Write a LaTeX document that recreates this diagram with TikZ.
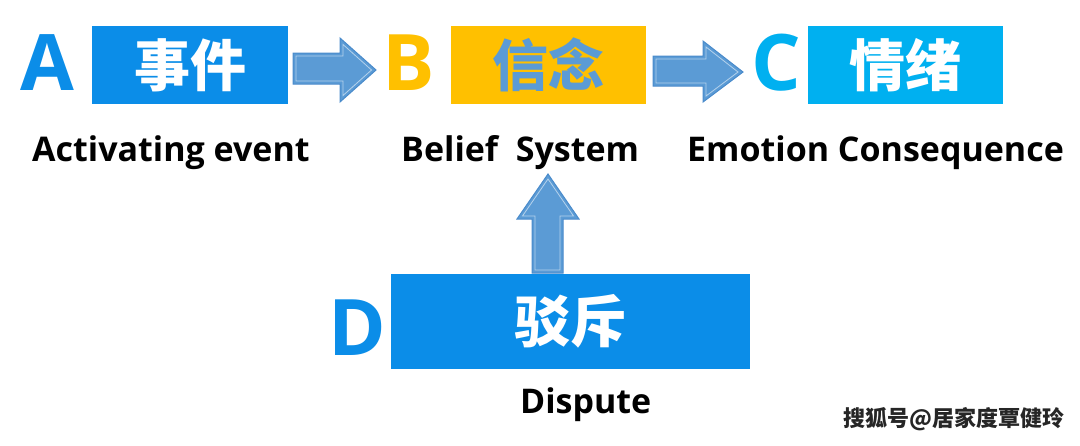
\documentclass[tikz,border=0pt]{standalone}
\usepackage{fontspec}
\setmainfont{Open Sans}
\newfontfamily\cjk{Noto Sans CJK SC}
\definecolor{boxblue}{HTML}{0B8DE8}
\definecolor{boxgold}{HTML}{FFC000}
\definecolor{boxcyan}{HTML}{00B0F0}
\definecolor{arrowblue}{HTML}{5B9BD5}
\definecolor{arrowedge}{HTML}{4A8BCB}
\tikzset{
  bigletter/.style={font=\fontsize{78}{78}\selectfont\bfseries, inner sep=0pt, anchor=base},
  termbox/.style={minimum width=#1, inner sep=0pt, font=\cjk\fontsize{56}{56}\selectfont\bfseries, text=white},
  caption/.style={font=\fontsize{34}{34}\selectfont\bfseries, inner sep=0pt, anchor=base west},
  blockarrow/.style={fill=arrowblue, draw=arrowedge, line width=1pt},
  innerline/.style={draw=white, draw opacity=0.55, line width=0.8pt},
}
\begin{document}
\begin{tikzpicture}[x=1pt,y=-1pt]
\useasboundingbox (0,0) rectangle (1080,445);
% boxes
\fill[boxblue] (92,26) rectangle (288,104);
\node[termbox=196pt] (evt) at (190,65) {事件};
\fill[boxgold] (451,26) rectangle (646,104);
\node[termbox=195pt, text=arrowblue] (bel) at (548.5,65) {信念};
\fill[boxcyan] (808,26) rectangle (1003,104);
\node[termbox=195pt] (emo) at (905.5,65) {情绪};
\fill[boxblue] (391,274) rectangle (750,369);
\node[termbox=359pt] (dis) at (570.5,321.5) {驳斥};
% letters
\node[bigletter, text=boxblue] (la) at (47,90) {A};
\node[bigletter, text=boxgold] (lb) at (409,90) {B};
\node[bigletter, text=boxcyan] (lc) at (776,90) {C};
\node[bigletter, text=boxblue] (ld) at (357,355) {D};
% captions
\node[caption] (ca) at (32,161) {Activating event};
\node[caption] (cb) at (401,161) {Belief\ \ System};
\node[caption] (cc) at (687,161) {Emotion Consequence};
\node[caption] (cd) at (520,413) {Dispute};
% block arrows
\draw[blockarrow] (293,53) -- (340,53) -- (340,38) -- (376,70) -- (340,102) -- (340,84) -- (293,84) -- cycle;
\draw[innerline] (296,56) -- (343,56) -- (343,44.5) -- (371.5,70) -- (343,95.5) -- (343,81) -- (296,81) -- cycle;
\draw[blockarrow] (653,56) -- (703,56) -- (703,41) -- (743,72) -- (703,102) -- (703,86) -- (653,86) -- cycle;
\draw[innerline] (656,59) -- (706,59) -- (706,47) -- (738,72) -- (706,96) -- (706,83) -- (656,83) -- cycle;
\draw[blockarrow] (532,273) -- (532,219) -- (517,219) -- (548,174) -- (579,219) -- (563,219) -- (563,273) -- cycle;
\draw[innerline] (535,270) -- (535,216) -- (522.5,216) -- (548,179) -- (573.5,216) -- (560,216) -- (560,270) -- cycle;
% watermark
\node[font=\cjk\fontsize{22}{22}\selectfont\bfseries, anchor=base west, inner sep=0pt, text=black!85] (wm) at (843,426) {搜狐号@居家度覃健玲};
\end{tikzpicture}
\end{document}
